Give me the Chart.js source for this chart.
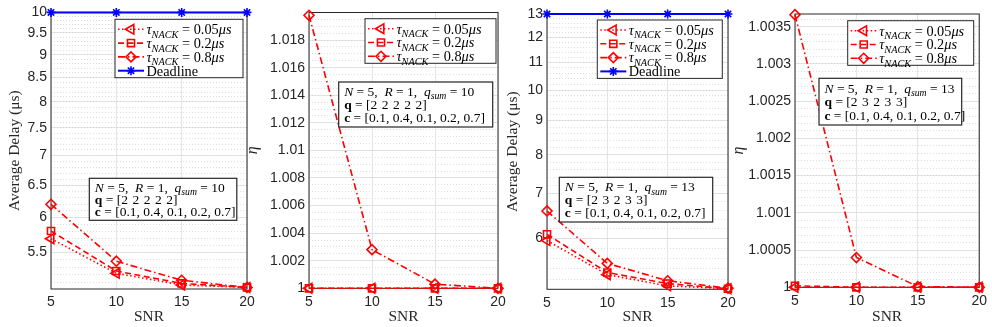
<!DOCTYPE html>
<html>
<head>
<meta charset="utf-8">
<script src="https://cdn.jsdelivr.net/npm/chart.js@4.4.1/dist/chart.umd.min.js"></script>
<style>
  body { margin: 0; background: #fff; width: 992px; height: 327px; overflow: hidden; position: relative; }
  canvas { position: absolute; top: 0; }
</style>
</head>
<body>
<canvas id="c1" width="262" height="327" style="left:0px"></canvas>
<canvas id="c2" width="272" height="327" style="left:240px"></canvas>
<canvas id="c3" width="242" height="327" style="left:500px"></canvas>
<canvas id="c4" width="266" height="327" style="left:726px"></canvas>
<script>
// data
const snr = [5, 10, 15, 20];

// left pair: q = [2 2 2 2 2], q_sum = 10
const delayA_005 = [5.69, 5.22, 5.07, 5.04];
const delayA_02 = [5.80, 5.25, 5.09, 5.04];
const delayA_08 = [6.20, 5.38, 5.13, 5.04];
const deadlineA = [10, 10, 10, 10];
const etaA_005 = [1, 1, 1, 1];
const etaA_02 = [1, 1, 1, 1];
const etaA_08 = [1.0198, 1.0028, 1.0003, 1.0000];

// right pair: q = [2 3 2 3 3], q_sum = 13
const delayB_005 = [5.95, 5.29, 5.09, 5.04];
const delayB_02 = [6.08, 5.33, 5.13, 5.04];
const delayB_08 = [6.59, 5.50, 5.18, 5.05];
const deadlineB = [13, 13, 13, 13];
const etaB_005 = [1, 1, 1, 1];
const etaB_02 = [1.00002, 1, 1, 1];
const etaB_08 = [1.00366, 1.0004, 1.00001, 1.0000];

// tick labels
const snrTicks = [5, 10, 15, 20];
const delayTicksA = [5.5, 6, 6.5, 7, 7.5, 8, 8.5, 9, 9.5, 10];
const delayTicksB = [6, 7, 8, 9, 10, 11, 12, 13];
const etaTicksA = [1, 1.002, 1.004, 1.006, 1.008, 1.01, 1.012, 1.014, 1.016, 1.018];
const etaTicksB = [1, 1.0005, 1.001, 1.0015, 1.002, 1.0025, 1.003, 1.0035];

const tauValues = ['0.05', '0.2', '0.8'];
const noteA = ['2\u20042\u20042\u20042\u20042', '10'];
const noteB = ['2\u20043\u20042\u20043\u20043', '13'];
const cVector = '[0.1, 0.4, 0.1, 0.2, 0.7]';

const RED = '#ff0000', BLUE = '#0000ff', INK = '#262626';
const SERIF = '"Liberation Serif", "DejaVu Serif", serif';
Chart.defaults.font.family = '"Liberation Sans", Arial, sans-serif';
Chart.defaults.color = INK;

// line / marker look of the three tau curves
const looks = [
  { dash: [1.5, 2.5], point: 'triangle', rot: -90, r: 5.6 },
  { dash: [6, 3.5], point: 'rect', rot: 0, r: 5 },
  { dash: [7, 3, 1.5, 3], point: 'rectRot', rot: 0, r: 5 }
];

function pts(vals) { return vals.map((v, i) => ({ x: snr[i], y: v })); }

function tauSet(vals, i) {
  const lk = looks[i];
  return {
    label: 'tau_NACK = ' + tauValues[i] + 'us',
    runs: [['τ', 'i'], ['NACK', 'sub'], [' = ' + tauValues[i], 'r'], ['μs', 'i']],
    data: pts(vals), borderColor: RED, borderWidth: 1.6, borderDash: lk.dash,
    pointStyle: lk.point, pointRotation: lk.rot, pointRadius: lk.r, pointBorderWidth: 1.6,
    pointBorderColor: RED, pointBackgroundColor: 'rgba(0,0,0,0)', clip: false, tension: 0
  };
}

function deadlineSet(vals) {
  return {
    label: 'Deadline', runs: [['Deadline', 'r']],
    data: pts(vals), borderColor: BLUE, borderWidth: 2, borderDash: [],
    pointStyle: 'star', pointRadius: 4.5, pointBorderWidth: 1.6,
    pointBorderColor: BLUE, pointBackgroundColor: BLUE, clip: false
  };
}

function steps(a, b, s) {
  const out = [];
  const n = Math.round((b - a) / s);
  for (let k = 0; k <= n; k++) out.push(+(a + k * s).toFixed(6));
  return out;
}

// ---- rich text helpers (LaTeX-like legend text) ----
function drawRuns(ctx, runs, x, y, size) {
  ctx.textBaseline = 'alphabetic';
  ctx.textAlign = 'left';
  ctx.fillStyle = '#000';
  const base = y + size * 0.34;
  for (const [t, s] of runs) {
    let dy = 0;
    if (s === 'i') ctx.font = `italic ${size}px ${SERIF}`;
    else if (s === 'b') ctx.font = `bold ${size}px ${SERIF}`;
    else if (s === 'sub') { ctx.font = `italic ${size * 0.72}px ${SERIF}`; dy = size * 0.25; }
    else ctx.font = `${size}px ${SERIF}`;
    ctx.fillText(t, x, base + dy);
    x += ctx.measureText(t).width;
  }
  return x;
}

function drawMarker(ctx, ds, x, y) {
  const r = ds.pointRadius;
  ctx.save();
  ctx.setLineDash([]);
  ctx.strokeStyle = ds.pointBorderColor;
  ctx.lineWidth = ds.pointBorderWidth;
  ctx.beginPath();
  if (ds.pointStyle === 'triangle') {
    ctx.moveTo(x - r, y); ctx.lineTo(x + r / 2, y - r * 0.866); ctx.lineTo(x + r / 2, y + r * 0.866); ctx.closePath();
  } else if (ds.pointStyle === 'rect') {
    const h = r * Math.SQRT1_2; ctx.rect(x - h, y - h, 2 * h, 2 * h);
  } else if (ds.pointStyle === 'rectRot') {
    ctx.moveTo(x - r, y); ctx.lineTo(x, y - r); ctx.lineTo(x + r, y); ctx.lineTo(x, y + r); ctx.closePath();
  } else {
    for (let k = 0; k < 4; k++) {
      const a = k * Math.PI / 4;
      ctx.moveTo(x - Math.cos(a) * r, y - Math.sin(a) * r);
      ctx.lineTo(x + Math.cos(a) * r, y + Math.sin(a) * r);
    }
  }
  ctx.stroke();
  ctx.restore();
}

const boxes = {
  id: 'boxes',
  beforeDatasetsDraw(chart) {
    const a = chart.chartArea, ctx = chart.ctx;
    ctx.save();
    ctx.strokeStyle = INK; ctx.lineWidth = 1;
    ctx.strokeRect(a.left, a.top, a.right - a.left, a.bottom - a.top);
    ctx.restore();
  },
  afterDatasetsDraw(chart, args, o) {
    const ctx = chart.ctx;
    // legend
    const L = o.legend, sets = chart.data.datasets;
    const rowH = 13.8, h = sets.length * rowH + 3.2;
    ctx.save();
    ctx.fillStyle = '#fff'; ctx.fillRect(L.x, L.y, L.w, h);
    ctx.strokeStyle = INK; ctx.lineWidth = 1; ctx.strokeRect(L.x, L.y, L.w, h);
    sets.forEach((ds, i) => {
      const cy = L.y + 3.1 + rowH / 2 + i * rowH;
      ctx.save();
      ctx.strokeStyle = ds.borderColor; ctx.lineWidth = ds.borderWidth;
      ctx.setLineDash(ds.borderDash || []);
      ctx.beginPath(); ctx.moveTo(L.x + 3, cy); ctx.lineTo(L.x + 29, cy); ctx.stroke();
      ctx.restore();
      drawMarker(ctx, ds, L.x + 16, cy);
      drawRuns(ctx, ds.runs, L.x + 31.5, cy, 14.3);
    });
    // parameter note
    const N = o.note;
    ctx.fillStyle = '#fff'; ctx.fillRect(N.x, N.y, N.w, N.h);
    ctx.strokeStyle = INK; ctx.lineWidth = 1.2; ctx.strokeRect(N.x, N.y, N.w, N.h);
    const lines = [
      [['N', 'i'], [' = 5,  ', 'r'], ['R', 'i'], [' = 1,  ', 'r'], ['q', 'i'], ['sum', 'sub'], [' = ' + N.vals[1], 'r']],
      [['q', 'b'], [' = [' + N.vals[0] + ']', 'r']],
      [['c', 'b'], [' = ' + cVector, 'r']]
    ];
    lines.forEach((ln, i) => drawRuns(ctx, ln, N.x + 5.5, N.y + N.h / 2 + (i - 1) * N.h * 0.29, 13.5));
    ctx.restore();
  }
};

function panel(id, datasets, y, lay) {
  const fixTicks = arr => s => { s.ticks = arr.map(v => ({ value: v })); };
  new Chart(document.getElementById(id), {
    type: 'line',
    data: { datasets },
    plugins: [boxes],
    options: {
      responsive: false, animation: false,
      layout: { padding: { top: lay.top, right: lay.right, left: 0, bottom: 0 } },
      plugins: { legend: { display: false }, tooltip: { enabled: false }, boxes: { legend: lay.legend, note: lay.note } },
      scales: {
        x: {
          type: 'linear', min: 5, max: 20, afterBuildTicks: fixTicks(snrTicks),
          ticks: { font: { size: 14 }, color: INK, padding: 5, maxRotation: 0, autoSkip: false },
          grid: { color: '#e4e4e4', drawTicks: false }, border: { display: false },
          title: { display: true, text: 'SNR', color: INK, font: { family: SERIF, size: 15.5 }, padding: { top: 0, bottom: 1 } },
          afterFit: s => { s.height = 327 - lay.bottom; }
        },
        y: {
          type: y.type, min: y.min, max: y.max, position: 'left', afterBuildTicks: fixTicks(y.ticks),
          ticks: { font: { size: 14 }, color: INK, padding: 4, autoSkip: false, callback: v => String(v) },
          grid: { color: '#e4e4e4', drawTicks: false }, border: { display: false },
          title: { display: true, text: y.title, color: INK, font: { family: SERIF, size: y.titleSize, style: y.titleStyle }, padding: { top: y.titlePad, bottom: 0 } },
          afterFit: s => { s.width = lay.left; }
        },
        yMinor: {
          type: y.type, min: y.min, max: y.max, position: 'left', afterBuildTicks: fixTicks(y.minor),
          ticks: { display: false }, grid: { color: '#d6d6d6', drawTicks: false, lineWidth: 0.8 },
          border: { display: false, dash: [1, 2] },
          afterFit: s => { s.width = 0; }
        }
      }
    }
  });
}

panel('c1',
  [tauSet(delayA_005, 0), tauSet(delayA_02, 1), tauSet(delayA_08, 2), deadlineSet(deadlineA)],
  { type: 'logarithmic', min: 5.02, max: 10, ticks: delayTicksA, minor: steps(5.1, 9.9, 0.1),
    title: 'Average Delay (μs)', titleSize: 15.5, titleStyle: 'normal', titlePad: 6 },
  { left: 51, right: 15, top: 12.3, bottom: 289,
    legend: { x: 115, y: 19.3, w: 128 }, note: { x: 89.3, y: 178.3, w: 147.5, h: 42, vals: noteA } });

panel('c2',
  [tauSet(etaA_005, 0), tauSet(etaA_02, 1), tauSet(etaA_08, 2)],
  { type: 'linear', min: 1, max: 1.02, ticks: etaTicksA, minor: steps(1, 1.02, 0.0005),
    title: 'η', titleSize: 16, titleStyle: 'italic', titlePad: 3 },
  { left: 69, right: 14, top: 12.5, bottom: 288.3,
    legend: { x: 125, y: 18.7, w: 131 }, note: { x: 98.7, y: 82, w: 154, h: 45, vals: noteA } });

panel('c3',
  [tauSet(delayB_005, 0), tauSet(delayB_02, 1), tauSet(delayB_08, 2), deadlineSet(deadlineB)],
  { type: 'logarithmic', min: 5.03, max: 13, ticks: delayTicksB, minor: steps(5.2, 12.8, 0.2),
    title: 'Average Delay (μs)', titleSize: 15.5, titleStyle: 'normal', titlePad: 4 },
  { left: 47, right: 14, top: 14, bottom: 289.3,
    legend: { x: 97.3, y: 20, w: 125 }, note: { x: 59.3, y: 177.3, w: 153.4, h: 44.7, vals: noteB } });

panel('c4',
  [tauSet(etaB_005, 0), tauSet(etaB_02, 1), tauSet(etaB_08, 2)],
  { type: 'linear', min: 1, max: 1.00367, ticks: etaTicksB, minor: steps(1, 1.0036, 0.0001),
    title: 'η', titleSize: 16, titleStyle: 'italic', titlePad: 3 },
  { left: 69, right: 11, top: 14, bottom: 287.3,
    legend: { x: 121.7, y: 20.7, w: 126 }, note: { x: 93, y: 78.3, w: 142.7, h: 46.7, vals: noteB } });
</script>
</body>
</html>
